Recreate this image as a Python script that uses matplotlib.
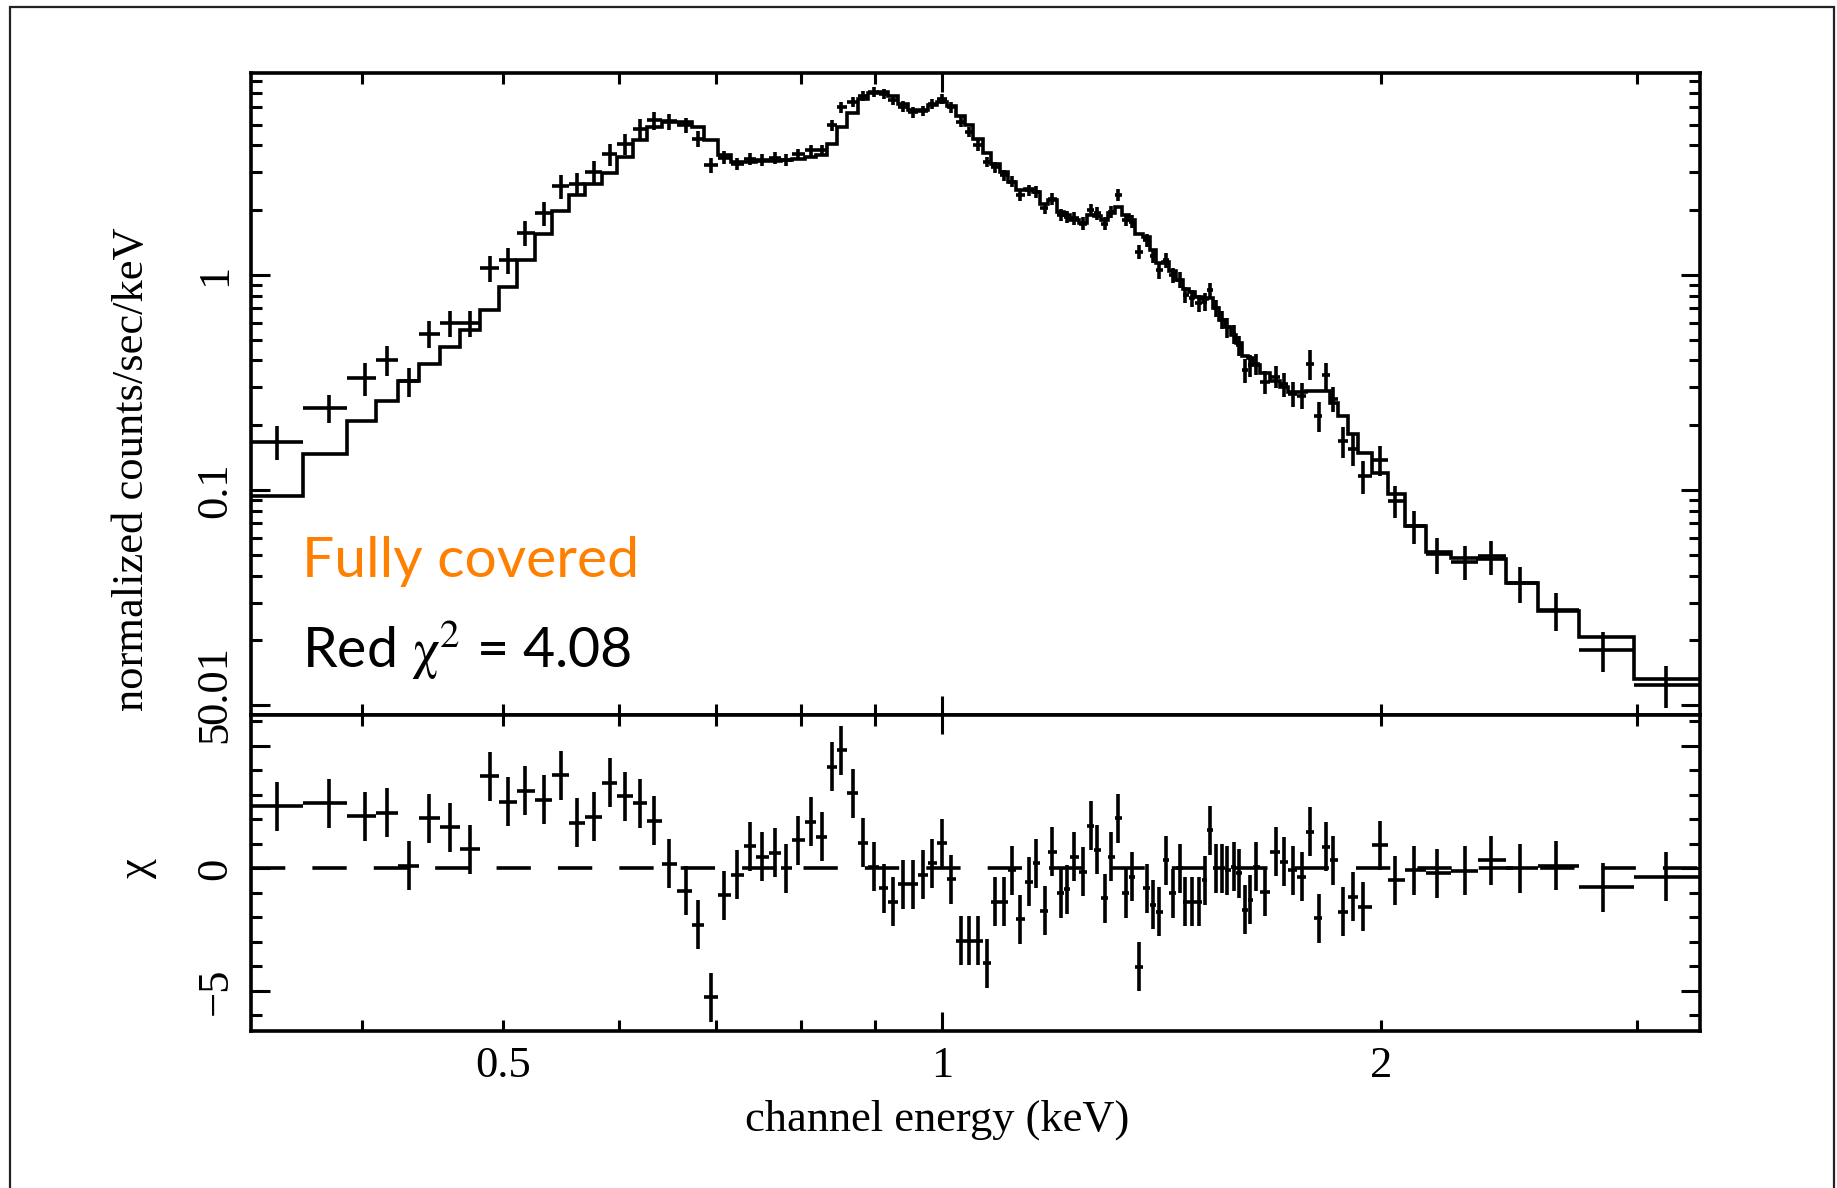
import numpy as np
import matplotlib
matplotlib.use('Agg')
import matplotlib.pyplot as plt
import matplotlib.transforms as mtransforms
from matplotlib.ticker import FixedLocator, FuncFormatter, NullFormatter, MultipleLocator
from matplotlib.patches import Rectangle

plt.rcParams['font.family'] = ['Liberation Serif', 'DejaVu Serif']
plt.rcParams['mathtext.fontset'] = 'stix'

# energy range of the spectrum (keV)
e_min, e_max = 0.3356, 3.31

# bin centres (keV)
energy = [
    0.350, 0.380, 0.402, 0.416, 0.431, 0.445, 0.460, 0.4745, 0.490, 0.504,
    0.518, 0.533, 0.548, 0.562, 0.577, 0.592, 0.606, 0.621, 0.635, 0.650,
    0.667, 0.680, 0.6945, 0.709, 0.724, 0.739, 0.753, 0.768, 0.782, 0.797,
    0.813, 0.827, 0.841, 0.853, 0.869, 0.883, 0.898, 0.912, 0.926, 0.941,
    0.956, 0.970, 0.985, 1.000, 1.015, 1.030, 1.043, 1.059, 1.074, 1.088,
    1.103, 1.117, 1.132, 1.148, 1.160, 1.176, 1.190, 1.207, 1.218, 1.232,
    1.250, 1.265, 1.278, 1.294, 1.307, 1.320, 1.338, 1.350, 1.365, 1.383,
    1.396, 1.410, 1.425, 1.440, 1.456, 1.469, 1.484, 1.500, 1.514, 1.526,
    1.542, 1.556, 1.570, 1.585, 1.600, 1.614, 1.628, 1.643, 1.665, 1.694,
    1.716, 1.740, 1.766, 1.789, 1.813, 1.835, 1.855, 1.883, 1.913, 1.946,
    1.997, 2.047, 2.109, 2.185, 2.283, 2.381, 2.492, 2.638, 2.839, 3.138]

# normalized counts/sec/keV
counts = [
    0.1675, 0.2415, 0.332, 0.404, 0.321, 0.533, 0.598, 0.598, 1.08, 1.17,
    1.57, 1.94, 2.58, 2.64, 3.01, 3.63, 4.07, 4.78, 5.22, 5.17,
    4.95, 4.29, 3.23, 3.51, 3.29, 3.45, 3.43, 3.49, 3.42, 3.63,
    3.79, 3.79, 4.95, 6.02, 6.35, 6.81, 7.06, 6.93, 6.51, 6.06,
    5.70, 5.80, 6.23, 6.58, 6.02, 5.13, 4.61, 4.00, 3.35, 3.17,
    2.90, 2.71, 2.35, 2.48, 2.43, 2.04, 2.26, 1.90, 1.86, 1.83,
    1.73, 2.00, 1.93, 1.73, 1.96, 2.35, 1.80, 1.77, 1.28, 1.45,
    1.22, 1.05, 1.17, 1.00, 0.95, 0.81, 0.78, 0.74, 0.75, 0.85,
    0.70, 0.62, 0.57, 0.53, 0.47, 0.36, 0.38, 0.386, 0.318, 0.337,
    0.31, 0.28, 0.275, 0.386, 0.222, 0.341, 0.266, 0.169, 0.155, 0.116,
    0.138, 0.0889, 0.0679, 0.0504, 0.0465, 0.0491, 0.0369, 0.0277, 0.0180, 0.01245]

counts_err = [
    0.030, 0.036, 0.058, 0.064, 0.050, 0.075, 0.085, 0.085, 0.15, 0.16,
    0.21, 0.25, 0.32, 0.32, 0.36, 0.42, 0.45, 0.50, 0.50, 0.45,
    0.40, 0.35, 0.25, 0.25, 0.22, 0.22, 0.22, 0.22, 0.22, 0.22,
    0.22, 0.22, 0.30, 0.35, 0.35, 0.35, 0.38, 0.38, 0.36, 0.34,
    0.32, 0.32, 0.34, 0.36, 0.34, 0.28, 0.25, 0.22, 0.19, 0.18,
    0.17, 0.16, 0.14, 0.15, 0.15, 0.13, 0.14, 0.12, 0.12, 0.12,
    0.12, 0.13, 0.13, 0.12, 0.13, 0.15, 0.12, 0.12, 0.10, 0.10,
    0.09, 0.09, 0.09, 0.08, 0.08, 0.07, 0.07, 0.07, 0.07, 0.07,
    0.065, 0.06, 0.06, 0.055, 0.05, 0.045, 0.045, 0.045, 0.04, 0.04,
    0.04, 0.038, 0.038, 0.06, 0.035, 0.05, 0.035, 0.028, 0.025, 0.02,
    0.022, 0.015, 0.012, 0.0095, 0.0085, 0.009, 0.007, 0.0055, 0.0038, 0.0027]

# folded model
model = [
    0.094, 0.147, 0.209, 0.259, 0.321, 0.387, 0.462, 0.556, 0.689, 0.877,
    1.17, 1.55, 1.99, 2.35, 2.64, 2.98, 3.53, 4.22, 4.86, 5.13,
    5.13, 4.86, 4.22, 3.59, 3.35, 3.36, 3.38, 3.40, 3.42, 3.47,
    3.53, 3.60, 4.07, 4.85, 5.65, 6.55, 7.03, 7.10, 6.80, 6.20,
    5.85, 5.85, 6.18, 6.35, 6.12, 5.50, 4.95, 4.30, 3.68, 3.28,
    3.00, 2.71, 2.47, 2.52, 2.42, 2.13, 2.22, 1.95, 1.90, 1.80,
    1.74, 1.90, 1.88, 1.80, 1.93, 2.07, 1.90, 1.80, 1.55, 1.50,
    1.30, 1.13, 1.15, 1.04, 0.95, 0.86, 0.83, 0.79, 0.77, 0.78,
    0.70, 0.62, 0.575, 0.525, 0.48, 0.42, 0.41, 0.38, 0.35, 0.32,
    0.30, 0.285, 0.285, 0.29, 0.29, 0.29, 0.255, 0.222, 0.182, 0.149,
    0.120, 0.0955, 0.0679, 0.0515, 0.0483, 0.0478, 0.0369, 0.0275, 0.0208, 0.0133]

# residuals (data-model)/error
chi = [
    2.54, 2.65, 2.13, 2.27, 0.10, 2.04, 1.67, 0.77, 3.76, 2.72,
    3.17, 2.81, 3.80, 1.86, 2.11, 3.49, 2.95, 2.65, 1.94, 0.18,
    -0.91, -2.31, -5.27, -1.09, -0.27, 0.91, 0.48, 0.64, 0.00, 1.15,
    1.90, 1.29, 4.14, 4.82, 3.06, 1.05, 0.07, -0.82, -1.36, -0.64,
    -0.64, -0.27, 0.20, 1.02, -0.45, -2.95, -2.95, -2.95, -3.87, -1.36,
    -1.36, -0.07, -2.08, -0.54, 0.20, -1.73, 0.68, -1.02, -0.86, 0.48,
    -0.14, 1.73, 0.75, -1.22, 0.48, 2.04, -1.02, -0.34, -4.01, -0.82,
    -1.49, -1.77, 0.34, -1.02, 0.00, -1.36, -1.36, -1.36, -0.48, 1.56,
    0.00, 0.00, -0.07, 0.07, -0.20, -1.70, -1.29, 0.07, -0.95, 0.68,
    0.27, -0.07, -0.34, 1.49, -2.04, 0.88, 0.34, -1.77, -1.15, -1.56,
    0.95, -0.48, -0.07, -0.20, -0.10, 0.34, 0.00, 0.11, -0.77, -0.34]
chi_err = 1.0

x_minor = [0.4, 0.5, 0.6, 0.7, 0.8, 0.9, 2, 3]
x_labels = {0.5: '0.5', 2: '2'}

energy = np.array(energy)
mids = np.sqrt(energy[:-1] * energy[1:])
edges = np.concatenate([[e_min], mids, [e_max]])
xerr = [energy - edges[:-1], edges[1:] - energy]

W, H = 1837, 1188
fig = plt.figure(figsize=(W / 100, H / 100), dpi=100)
fig.patches.append(Rectangle((10 / W, -0.05), 1824 / W, 1.05 - 7 / H,
                             transform=fig.transFigure, fill=False,
                             ec='#222222', lw=1.6))

left, width = 250.7 / W, 1449 / W
ax1 = fig.add_axes([left, 1 - 715 / H, width, (715 - 73.3) / H])
ax2 = fig.add_axes([left, 1 - 1031 / H, width, (1031 - 715) / H])

lw = 2.6
ax1.errorbar(energy, counts, xerr=xerr, yerr=counts_err, fmt='none',
             ecolor='k', elinewidth=lw, capsize=0)
ax1.stairs(model, edges, baseline=None, color='k', lw=lw)

ax2.errorbar(energy, chi, xerr=xerr, yerr=chi_err, fmt='none',
             ecolor='k', elinewidth=lw, capsize=0)
ax2.axhline(0, color='k', lw=lw, ls=(0, (9.5, 7.5)))

tick_fs = 32
for ax in (ax1, ax2):
    ax.set_xscale('log')
    ax.set_xlim(e_min, e_max)
    ax.xaxis.set_major_locator(FixedLocator([1.0]))
    ax.xaxis.set_minor_locator(FixedLocator(x_minor))
    ax.tick_params(which='both', direction='in', top=True, right=True,
                   width=2.2, labelsize=tick_fs)
    ax.tick_params(axis='x', which='both', pad=11)
    ax.tick_params(axis='y', which='both', pad=11)
    ax.tick_params(which='major', length=14)
    ax.tick_params(which='minor', length=8)
    for s in ax.spines.values():
        s.set_linewidth(2.6)

ax1.set_yscale('log')
ax1.set_ylim(0.0090, 8.65)
ax1.xaxis.set_major_formatter(NullFormatter())
ax1.xaxis.set_minor_formatter(NullFormatter())
ax1.yaxis.set_major_locator(FixedLocator([0.01, 0.1, 1]))
ax1.yaxis.set_minor_locator(FixedLocator(
    [m * d for d in (0.01, 0.1, 1) for m in range(2, 10)]))
ax1.yaxis.set_major_formatter(FuncFormatter(lambda v, p: '%g' % v))
ax1.yaxis.set_minor_formatter(NullFormatter())

ax2.set_ylim(-6.64, 6.26)
ax2.xaxis.set_major_formatter(FuncFormatter(lambda v, p: '1'))
ax2.xaxis.set_minor_formatter(FuncFormatter(lambda v, p: x_labels.get(v, '')))
ax2.yaxis.set_major_locator(FixedLocator([-5, 0, 5]))
ax2.yaxis.set_minor_locator(MultipleLocator(1))

for ax in (ax1, ax2):
    ax.tick_params(axis='y', labelrotation=90)
    for lab in ax.get_yticklabels():
        lab.set_va('center')
# labels at the panel joint are pushed up, as in the original plot
lab001 = ax1.get_yticklabels()[0]
lab001.set_transform(lab001.get_transform() +
                     mtransforms.ScaledTranslation(0, 20 / 100, fig.dpi_scale_trans))
lab5 = ax2.get_yticklabels()[2]
lab5.set_transform(lab5.get_transform() +
                   mtransforms.ScaledTranslation(0, 14 / 100, fig.dpi_scale_trans))

fig.text(132 / W, 1 - 469 / H, 'normalized counts/sec/keV', rotation=90,
         ha='center', va='center', fontsize=32)
fig.text(137 / W, 1 - 868 / H, 'χ', rotation=90, ha='center', va='center',
         fontsize=32)
fig.text(937 / W, 1 - 1120 / H, 'channel energy (keV)', ha='center',
         va='center', fontsize=32)

fig.text(302 / W, 1 - 577 / H, 'Fully covered', color='#FF8000',
         family='Lato', fontsize=41, va='baseline')
fig.text(302 / W, 1 - 668 / H, r'Red $\mathrm{\chi}^{2}$ = 4.08', color='k',
         family='Lato', fontsize=40, va='baseline')

fig.savefig('out.png', dpi=100)
